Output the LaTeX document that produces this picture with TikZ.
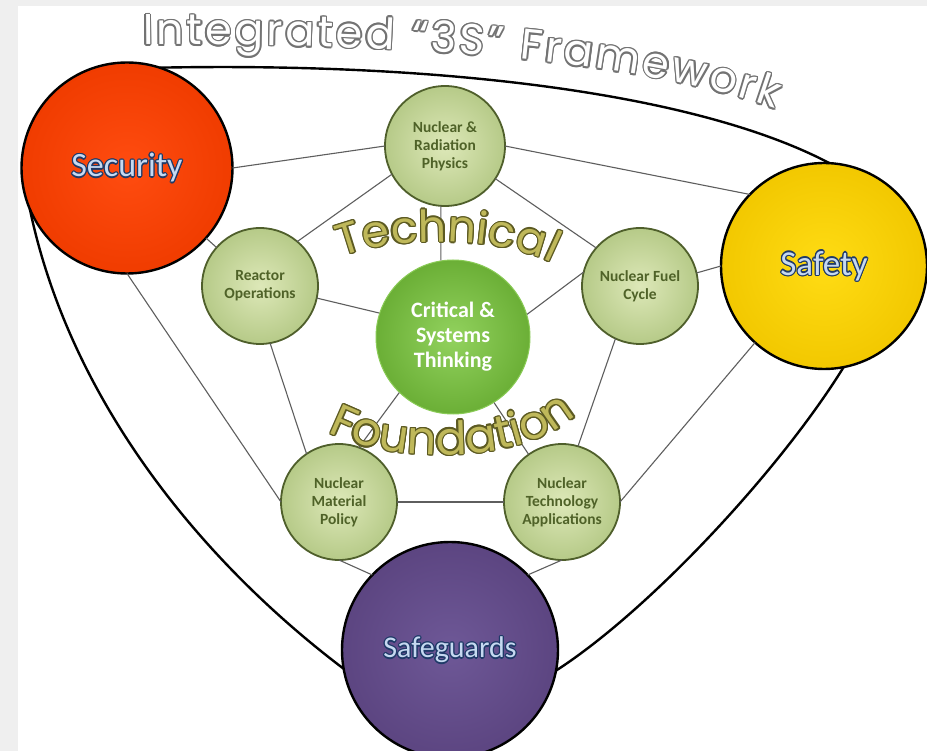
\documentclass[tikz,border=0pt]{standalone}
\usepackage{fontspec}
\setmainfont{Carlito}
\newfontfamily\titlefont{Poppins}
\usetikzlibrary{decorations.text}

\definecolor{panelgray}{HTML}{EFEFEF}
\definecolor{linkgray}{HTML}{5E5E5E}
\definecolor{titlegray}{HTML}{737373}
\definecolor{goldfill}{HTML}{BFB85A}
\definecolor{goldrim}{HTML}{5C5A22}
\definecolor{labelblue}{HTML}{C6D9F1}
\definecolor{labelrim}{HTML}{1F3A68}
\definecolor{leafhi}{HTML}{DDE8B8}
\definecolor{leafgreen}{HTML}{B6CA88}
\definecolor{leafrim}{HTML}{4F5F2B}
\definecolor{leaftext}{HTML}{4F6228}
\definecolor{corehi}{HTML}{92D25E}
\definecolor{coregreen}{HTML}{6BAF36}
\definecolor{sechi}{HTML}{FF4C10}
\definecolor{seclo}{HTML}{F03C00}
\definecolor{safhi}{HTML}{FFDC14}
\definecolor{saflo}{HTML}{F2C800}
\definecolor{sgdhi}{HTML}{6E5897}
\definecolor{sgdlo}{HTML}{5C4581}

% text with a coloured rim round it
\newcommand\rimtext[4][1.2pt]{%
  \leavevmode
  \foreach \ang in {0,30,...,330}{%
    \pgfmathsetlengthmacro\rimdx{#1*cos(\ang)}%
    \pgfmathsetlengthmacro\rimdy{#1*sin(\ang)}%
    \rlap{\hspace*{\rimdx}\raisebox{\rimdy}{\textcolor{#2}{#4}}}}%
  \textcolor{#3}{#4}}
\newcommand\titlesize{\titlefont\fontsize{43}{43}\selectfont}
\newcommand\archsize{\titlefont\fontsize{44}{44}\selectfont}
\newcommand\footsize{\titlefont\fontsize{46}{46}\selectfont}

\begin{document}
\begin{tikzpicture}[x=1pt,y=-1pt,
    bigring/.style={circle,draw=black,line width=2.4pt,inner sep=0pt,outer sep=0pt,minimum size=#1},
    topic/.style={circle,draw=leafrim,line width=1.8pt,inner sep=0pt,outer sep=0pt,minimum size=116pt,
      inner color=leafhi,outer color=leafgreen,text=leaftext,align=center,
      font=\fontsize{15.5}{18}\selectfont\bfseries},
    link/.style={draw=linkgray,line width=1.1pt},
    hull/.style={draw=black,line width=2.4pt}]

\useasboundingbox (0,0) rectangle (927,751);
\fill[panelgray] (0,0) rectangle (927,751);
\fill[white] (18,6) rectangle (927,751);

% the three S
\node[bigring=211pt,inner color=sechi,outer color=seclo] (sec) at (127,168)
  {\fontsize{34}{34}\selectfont\rimtext{labelrim}{labelblue}{Security}};
\node[bigring=206pt,inner color=safhi,outer color=saflo] (saf) at (824,266)
  {\fontsize{35}{35}\selectfont\rimtext{labelrim}{labelblue}{Safety}};
\node[bigring=216pt,inner color=sgdhi,outer color=sgdlo] (sgd) at (450,650)
  {\fontsize{30}{30}\selectfont\rimtext{labelrim}{labelblue}{Safeguards}};

% technical foundation
\node[topic,minimum size=120pt] (phy) at (445,146) {Nuclear \&\\Radiation\\Physics};
\node[topic] (rea) at (260,286) {Reactor\\Operations};
\node[topic] (fue) at (640,286) {Nuclear Fuel\\Cycle};
\node[topic] (mat) at (339,502) {Nuclear\\Material\\Policy};
\node[topic] (tec) at (562,502) {Nuclear\\Technology\\Applications};
\node[circle,draw=corehi!80!coregreen,line width=1pt,inner sep=0pt,minimum size=154pt,
  inner color=corehi,outer color=coregreen,text=white,align=center,
  font=\fontsize{22}{25}\selectfont\bfseries] (cen) at (453,337) {Critical \&\\Systems\\Thinking};

% outer frame
\draw[hull] (sec.72) .. controls (450,62) and (700,95) .. (saf.87);
\draw[hull] (sec.203) .. controls (70,400) and (200,560) .. (sgd.190);
\draw[hull] (sgd.-11) .. controls (650,610) and (780,470) .. (saf.-79);

% links to the three S
\draw[link] (sec.east) -- (phy.west);
\draw[link] (sec) -- (rea);
\draw[link] (sec.south) -- (mat.west);
\draw[link] (saf.136) -- (phy.east);
\draw[link] (fue.13) -- (saf.west);
\draw[link] (saf.228) -- (tec.east);
\draw[link] (sgd.136) -- (mat.south);
\draw[link] (sgd.44) -- (tec.south);

% pentagon
\draw[link] (rea.50) -- (phy.208);
\draw[link] (phy.-33) -- (fue.139);
\draw[link] (rea.-80) -- (mat.124);
\draw[link] (fue.245) -- (tec.74);
\draw[link] (mat.east) -- (tec.west);

% spokes
\draw[link] (phy.266) -- (cen.99);
\draw[link] (rea.-12) -- (cen.162);
\draw[link] (cen.17) -- (fue.166);
\draw[link] (cen.226) -- (mat.70);
\draw[link] (cen.-58) -- (tec.125);

% curved words
\foreach \a in {0,30,...,330}
  \path[decorate,decoration={text along path,text align={fit to path},text color=titlegray,
      text={|\titlesize|Integrated “3S” Framework}},shift={(\a:1.5pt)}]
    (143,45) .. controls (350,43) and (620,53) .. (775,109);
\path[decorate,decoration={text along path,text align={fit to path},text color=white,
    text={|\titlesize|Integrated “3S” Framework}}]
  (143,45) .. controls (350,43) and (620,53) .. (775,109);

\foreach \a in {0,30,...,330}
  \path[decorate,decoration={text along path,text align={fit to path},text color=goldrim,
      text={|\archsize|Technical}},shift={(\a:1.3pt)}]
    (342,257) .. controls (392,236) and (500,236) .. (552,263);
\path[decorate,decoration={text along path,text align={fit to path},text color=goldfill,
    text={|\archsize|Technical}}]
  (342,257) .. controls (392,236) and (500,236) .. (552,263);

\foreach \a in {0,30,...,330}
  \path[decorate,decoration={text along path,text align={fit to path},text color=goldrim,
      text={|\footsize|Foundation}},shift={(\a:1.3pt)}]
    (328,432) .. controls (380,462) and (510,466) .. (568,422);
\path[decorate,decoration={text along path,text align={fit to path},text color=goldfill,
    text={|\footsize|Foundation}}]
  (328,432) .. controls (380,462) and (510,466) .. (568,422);
\end{tikzpicture}
\end{document}
